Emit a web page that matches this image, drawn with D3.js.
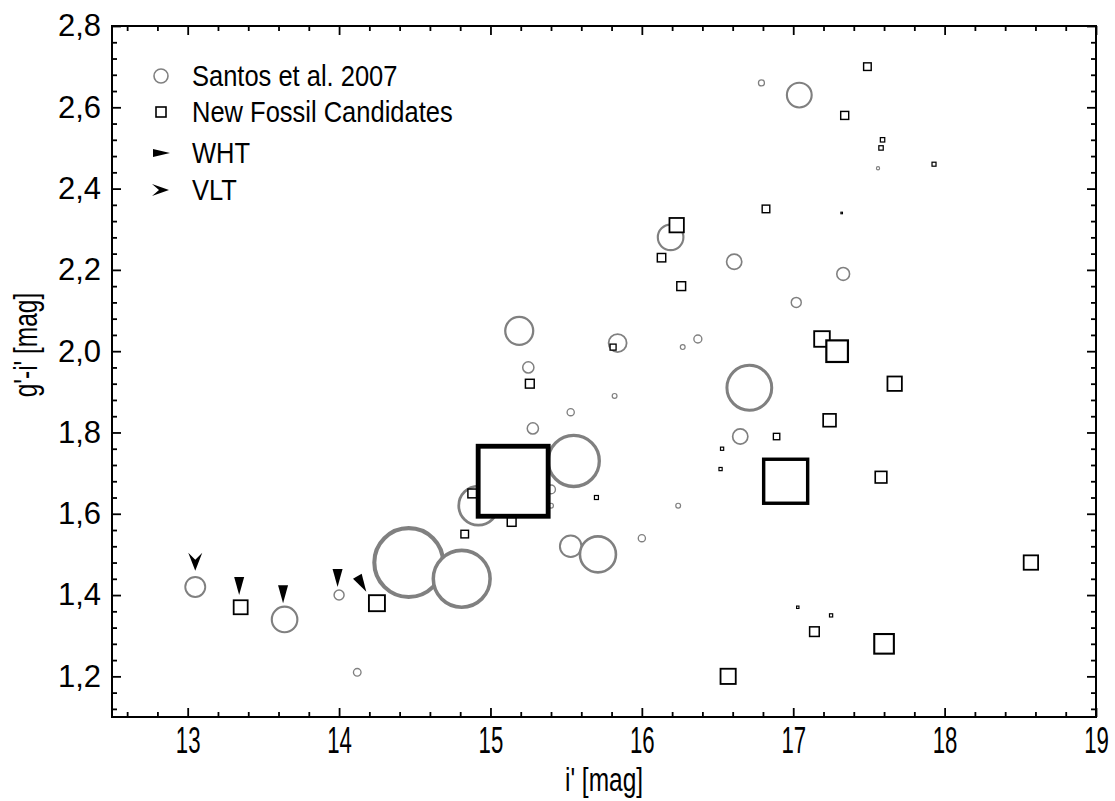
<!DOCTYPE html>
<html>
<head>
<meta charset="utf-8">
<script src="https://cdn.jsdelivr.net/npm/d3@7"></script>
<style>
body { margin: 0; background: #fff; }
text { font-family: "Liberation Sans", Arial, sans-serif; }
</style>
</head>
<body>
<div id="chart"></div>
<script>
// Santos et al. 2007 (i', g'-i', symbol size)
const santosX = [13.05, 13.64, 14.00, 14.12, 14.46, 14.81, 14.92, 15.19, 15.25, 15.28, 15.40, 15.40, 15.53, 15.53, 15.55, 15.71,
    15.82, 15.84, 16.00, 16.19, 16.24, 16.27, 16.37, 16.61, 16.65, 16.71, 16.79, 17.02, 17.04, 17.33, 17.56];
const santosY = [1.42, 1.34, 1.40, 1.21, 1.48, 1.44, 1.62, 2.05, 1.96, 1.81, 1.66, 1.62, 1.85, 1.52, 1.73, 1.50,
    1.89, 2.02, 1.54, 2.28, 1.62, 2.01, 2.03, 2.22, 1.79, 1.91, 2.66, 2.12, 2.63, 2.19, 2.45];
const santosS = [2.5, 3.2, 1.25, 0.95, 8.6, 7.1, 4.9, 3.5, 1.4, 1.4, 1.1, 0.6, 0.9, 2.7, 6.4, 4.5,
    0.6, 2.25, 0.9, 3.2, 0.6, 0.6, 1.0, 1.9, 1.9, 5.6, 0.75, 1.25, 3.1, 1.6, 0.4];

// New fossil candidates
const fossilX = [13.35, 14.25, 14.83, 14.88, 15.14, 15.15, 15.26, 15.70, 15.81, 16.13, 16.23, 16.26, 16.52, 16.53, 16.57, 16.82, 16.89,
    16.95, 17.03, 17.14, 17.19, 17.24, 17.25, 17.29, 17.32, 17.34, 17.49, 17.58, 17.58, 17.59, 17.60, 17.67, 17.93, 18.57];
const fossilY = [1.37, 1.38, 1.55, 1.65, 1.58, 1.68, 1.92, 1.64, 2.01, 2.23, 2.31, 2.16, 1.71, 1.76, 1.20, 2.35, 1.79,
    1.68, 1.37, 1.31, 2.03, 1.83, 1.35, 2.00, 2.34, 2.58, 2.70, 2.50, 1.69, 2.52, 1.28, 1.92, 2.46, 1.48];
const fossilS = [1.75, 2.0, 0.95, 1.1, 1.1, 8.75, 1.1, 0.5, 0.75, 1.05, 1.8, 1.1, 0.4, 0.4, 1.9, 0.95, 0.8,
    5.5, 0.3, 1.2, 1.95, 1.6, 0.4, 2.7, 0.2, 1.0, 0.95, 0.55, 1.45, 0.55, 2.45, 1.8, 0.5, 1.8];

// spectroscopy flags (arrow tips)
const whtX = [13.34, 13.63, 13.99, 14.18];
const whtY = [1.40, 1.38, 1.42, 1.408];
const whtAngle = [0, 0, 0, -30];
const vltX = [13.05];
const vltY = [1.46];

const xTicks = [13, 14, 15, 16, 17, 18, 19];
const yTicks = [1.2, 1.4, 1.6, 1.8, 2.0, 2.2, 2.4, 2.6, 2.8];
const legendLabels = ["Santos et al. 2007", "New Fossil Candidates", "WHT", "VLT"];

const width = 1115, height = 801;
const svg = d3.select("#chart").append("svg")
    .attr("width", width)
    .attr("height", height);

const x = d3.scaleLinear().domain([12.5, 19]).range([112, 1096]);
const y = d3.scaleLinear().domain([1.1, 2.8]).range([717, 26]);
const size = d3.scaleLinear().domain([0, 10]).range([0, 80]);

const comma = d3.formatLocale({decimal: ",", thousands: ".", grouping: [3], currency: ["", ""]}).format(".1f");

const xMinor = d3.range(12.6, 19, 0.2).filter(v => Math.abs(v - Math.round(v)) > 0.01);
const yMinor = d3.range(1.12, 2.8, 0.04).filter(v => Math.abs(v * 5 - Math.round(v * 5)) > 0.01);

function drawAxis(axis, tx, ty, cls) {
    const g = svg.append("g").attr("class", cls).attr("transform", `translate(${tx},${ty})`).call(axis);
    g.select(".domain").remove();
    g.selectAll("line").attr("stroke", "#000").attr("stroke-width", 1.8);
    return g;
}

// minor ticks
drawAxis(d3.axisBottom(x).tickValues(xMinor).tickSize(-5).tickFormat(""), 0, 717, "minor");
drawAxis(d3.axisTop(x).tickValues(xMinor).tickSize(-5).tickFormat(""), 0, 26, "minor");
drawAxis(d3.axisLeft(y).tickValues(yMinor).tickSize(-5).tickFormat(""), 112, 0, "minor");
drawAxis(d3.axisRight(y).tickValues(yMinor).tickSize(-5).tickFormat(""), 1096, 0, "minor");

// major ticks
const xb = drawAxis(d3.axisBottom(x).tickValues(xTicks).tickSize(-9).tickPadding(10).tickFormat(d3.format("d")), 0, 717, "x");
drawAxis(d3.axisTop(x).tickValues(xTicks).tickSize(-9).tickFormat(""), 0, 26, "major");
const yl = drawAxis(d3.axisLeft(y).tickValues(yTicks).tickSize(-9).tickPadding(11).tickFormat(comma), 112, 0, "y");
drawAxis(d3.axisRight(y).tickValues(yTicks).tickSize(-9).tickFormat(""), 1096, 0, "major");

xb.selectAll("text")
    .attr("font-size", 37)
    .attr("font-family", "Liberation Sans, Arial, sans-serif")
    .attr("fill", "#000")
    .attr("transform", "scale(0.6,1)");
yl.selectAll("text")
    .attr("font-size", 31)
    .attr("font-family", "Liberation Sans, Arial, sans-serif")
    .attr("fill", "#000");

// frame
svg.append("rect")
    .attr("x", 112).attr("y", 26)
    .attr("width", 1096 - 112).attr("height", 717 - 26)
    .attr("fill", "none")
    .attr("stroke", "#000")
    .attr("stroke-width", 2);

// axis titles
svg.append("text")
    .attr("transform", "translate(604,791) scale(0.72,1)")
    .attr("text-anchor", "middle")
    .attr("font-size", 34)
    .text("i' [mag]");
svg.append("text")
    .attr("transform", "translate(37,345) rotate(-90) scale(0.72,1)")
    .attr("text-anchor", "middle")
    .attr("font-size", 34)
    .text("g'-i' [mag]");

// Santos circles
const santos = santosX.map((d, i) => ({x: d, y: santosY[i], s: santosS[i]}));
svg.append("g").selectAll("circle")
    .data(santos)
    .enter()
    .append("circle")
    .attr("cx", d => x(d.x))
    .attr("cy", d => y(d.y))
    .attr("r", d => size(d.s) / 2)
    .attr("fill", "#fff")
    .attr("stroke", "#808080")
    .attr("stroke-width", d => 1 + size(d.s) / 2 * 0.09);

// fossil squares
const fossil = fossilX.map((d, i) => ({x: d, y: fossilY[i], s: fossilS[i]}));
svg.append("g").selectAll("rect")
    .data(fossil)
    .enter()
    .append("rect")
    .attr("x", d => x(d.x) - size(d.s) / 2)
    .attr("y", d => y(d.y) - size(d.s) / 2)
    .attr("width", d => size(d.s))
    .attr("height", d => size(d.s))
    .attr("fill", "#fff")
    .attr("stroke", "#000")
    .attr("stroke-width", d => 1 + size(d.s) / 2 * 0.11);

// arrow shapes, tip at origin, body pointing up
const whtShape = "M0,0 L-5,-18 L5,-18 Z";
const vltShape = "M0,0 L-7,-18 L0,-11 L7,-18 Z";

svg.append("g").selectAll("path")
    .data(whtX.map((d, i) => ({x: d, y: whtY[i], a: whtAngle[i]})))
    .enter()
    .append("path")
    .attr("d", whtShape)
    .attr("transform", d => `translate(${x(d.x)},${y(d.y)}) rotate(${d.a})`)
    .attr("fill", "#000");

svg.append("g").selectAll("path")
    .data(vltX.map((d, i) => ({x: d, y: vltY[i]})))
    .enter()
    .append("path")
    .attr("d", vltShape)
    .attr("transform", d => `translate(${x(d.x)},${y(d.y)})`)
    .attr("fill", "#000");

// legend
const legend = svg.append("g").attr("class", "legend");
const rowY = [76, 112, 153, 190];

legend.append("circle")
    .attr("cx", 161).attr("cy", rowY[0]).attr("r", 7)
    .attr("fill", "none").attr("stroke", "#808080").attr("stroke-width", 1.6);
legend.append("rect")
    .attr("x", 156).attr("y", rowY[1] - 5).attr("width", 10).attr("height", 10)
    .attr("fill", "none").attr("stroke", "#000").attr("stroke-width", 1.6);
legend.append("path")
    .attr("d", "M0,0 L-4,-17 L4,-17 Z")
    .attr("transform", `translate(170,${rowY[2]}) rotate(-90)`)
    .attr("fill", "#000");
legend.append("path")
    .attr("d", "M0,0 L-6,-17 L0,-10 L6,-17 Z")
    .attr("transform", `translate(169,${rowY[3]}) rotate(-90)`)
    .attr("fill", "#000");

legend.selectAll("text")
    .data(legendLabels)
    .enter()
    .append("text")
    .attr("transform", (d, i) => `translate(192,${rowY[i] + 10}) scale(0.85,1)`)
    .attr("font-size", 30)
    .attr("fill", "#000")
    .text(d => d);
</script>
</body>
</html>
